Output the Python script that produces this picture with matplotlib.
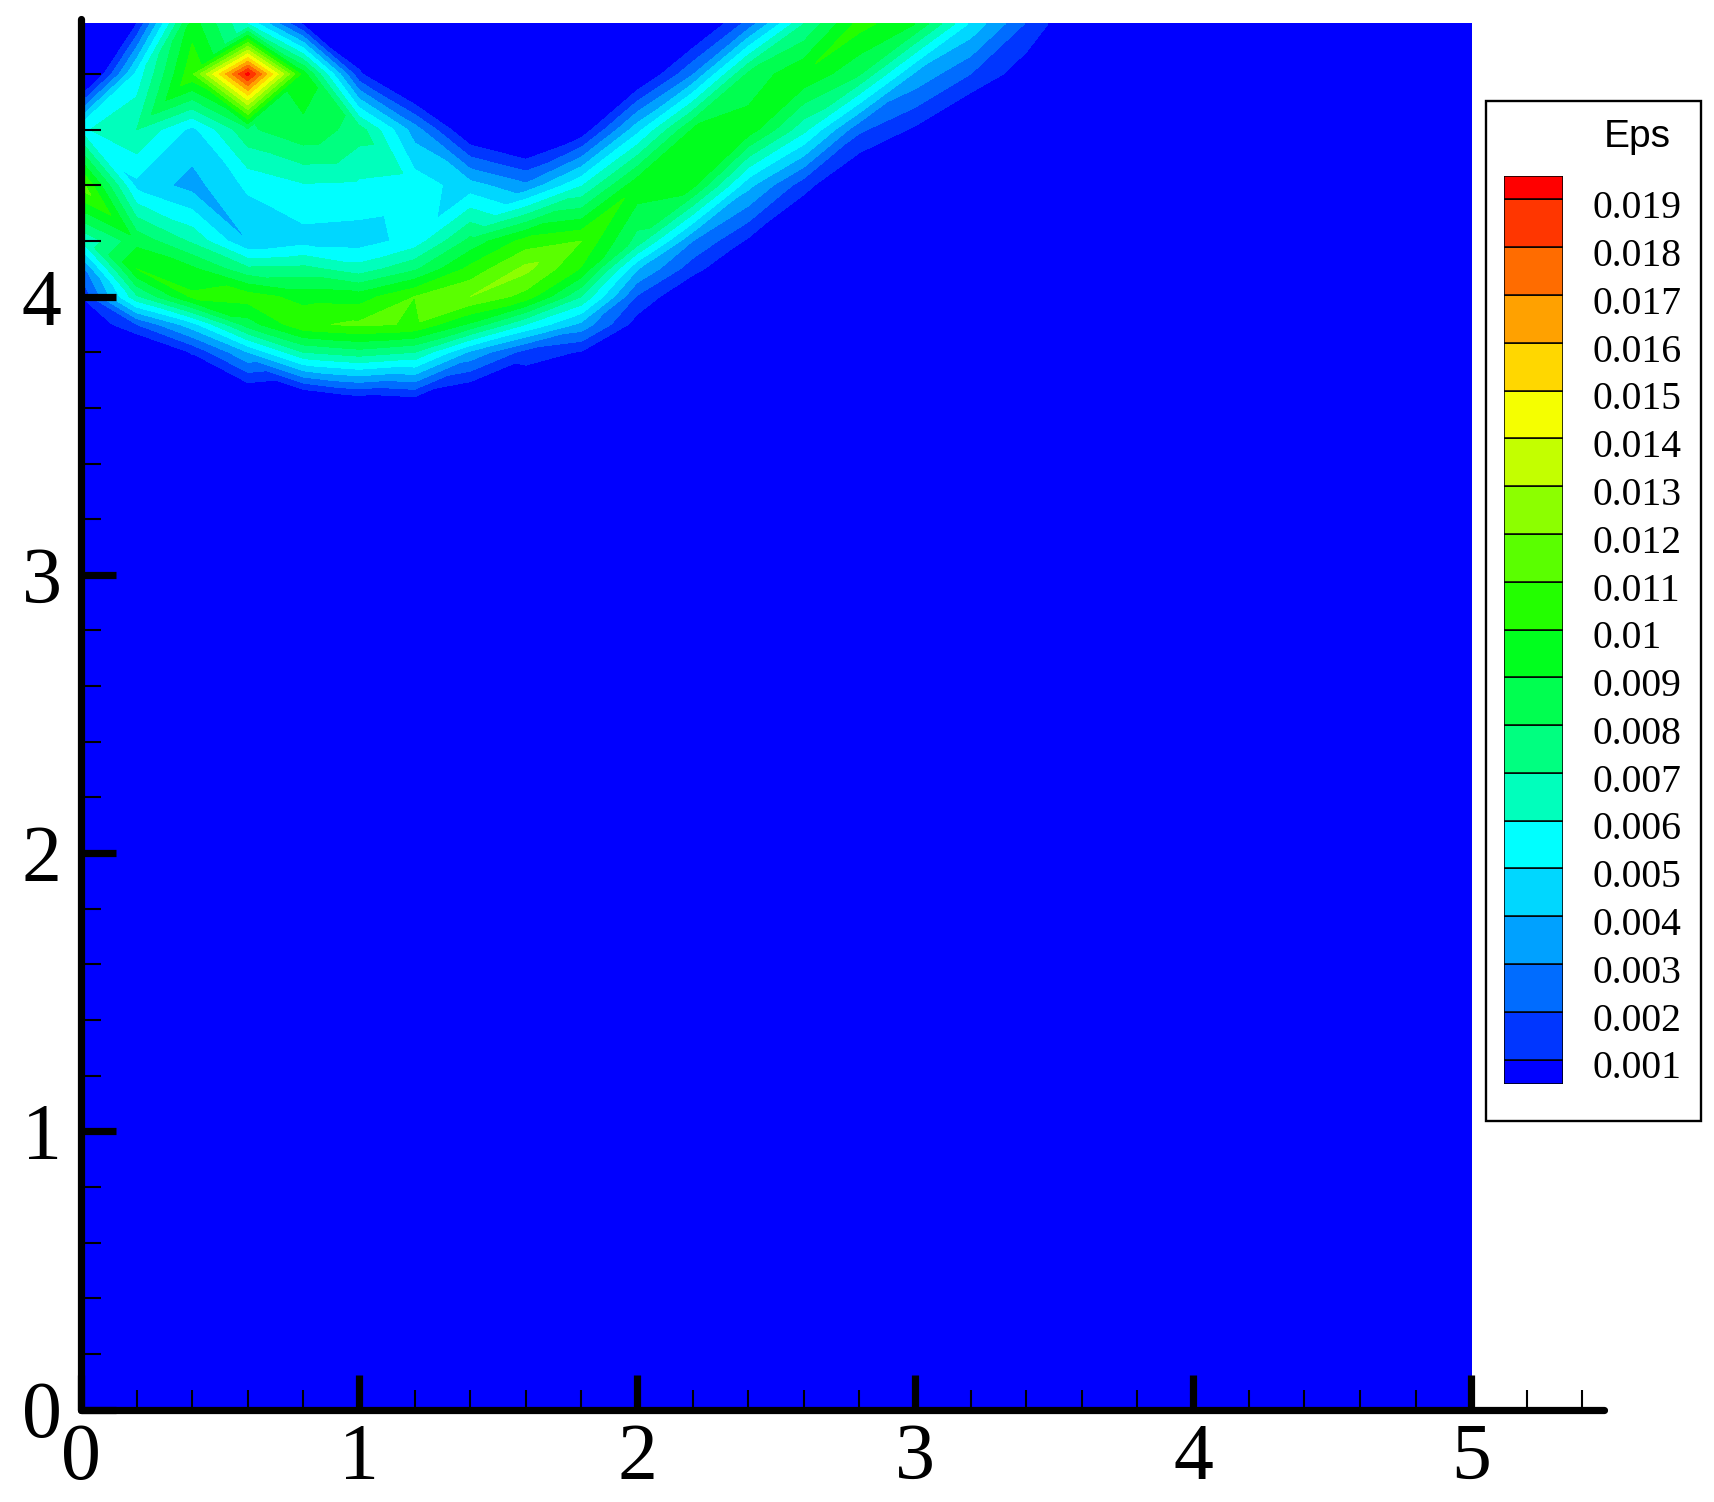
import matplotlib
matplotlib.use('Agg')
import matplotlib.pyplot as plt
import matplotlib.tri as mtri
from matplotlib.patches import Rectangle
import numpy as np

W, H = 1715, 1502

# Eps, in units of 0.001, one list per row of the mesh
x_nodes = [0, 0.2, 0.4, 0.6, 0.8, 1.0, 1.2, 1.4, 1.6, 1.8, 2.0, 2.2, 2.4, 2.6, 2.8, 3.0, 3.2, 3.4, 3.6]
eps_498 = [-1, 1.0, 9.5, 6.0, 0.8, -1, 0, 0, 0, 0, 0, -0.8, 2.4, 7.0, 10.4, 9.0, 4.8, 1.9, -0.4]
eps_480 = [-2, 5.3, 10.8, 19.4, 9.5, 1.2, -2, -0.5, -1, -1, -0.5, 2.9, 8.2, 9.9, 8.1, 3.8, 2.0, 0.3, 0]
eps_460 = [5.8, 7.0, 4.7, 7.8, 8.8, 7.5, 3.5, -0.3, -1.5, 0.2, 4.6, 9.1, 9.6, 6.3, 2.2, 0.8, -1, 0, 0]
eps_440 = [11.5, 4.7, 3.6, 5.2, 5.9, 5.8, 5.6, 4.4, 3.2, 5.9, 9.7, 9.3, 4.3, 1.4, -0.7, -1, 0, 0, 0]
eps_420 = [6.0, 8.7, 6.8, 4.0, 4.6, 4.5, 5.4, 8.3, 10.4, 11.0, 7.6, 3.0, 0.8, -1, 0, 0, 0, 0, 0]
eps_410 = [2.5, 10.0, 9.2, 7.2, 7.3, 6.4, 7.8, 10.3, 12.3, 9.9, 4.1, 1.4, -0.5, 0, 0, 0, 0, 0, 0]
eps_400 = [1.0, 6.8, 10.2, 10.5, 9.6, 9.5, 11.0, 12.0, 10.6, 7.0, 1.9, -0.3, 0, 0, 0, 0, 0, 0, 0]
eps_390 = [-0.3, 2.0, 4.6, 8.5, 10.8, 11.2, 10.9, 8.8, 6.0, 3.7, 0.5, -0.5, 0, 0, 0, 0, 0, 0, 0]
eps_380 = [-1, -1, 1.1, 4.0, 7.0, 7.6, 7.0, 3.8, 1.6, 0.9, -1, 0, 0, 0, 0, 0, 0, 0, 0]
eps_360 = [0, 0, -1, -1.5, -2, -0.9, -0.5, -1.5, -1, -1, 0, 0, 0, 0, 0, 0, 0, 0, 0]
eps_340 = [0] * 19

y_nodes = [3.4, 3.6, 3.8, 3.9, 4.0, 4.1, 4.2, 4.4, 4.6, 4.8, 4.98]

levels = [i for i in range(1, 20)]
level_labels = ['0.001', '0.002', '0.003', '0.004', '0.005', '0.006', '0.007', '0.008', '0.009', '0.01',
                '0.011', '0.012', '0.013', '0.014', '0.015', '0.016', '0.017', '0.018', '0.019']
band_colors = ['#0000ff', '#0036ff', '#006cff', '#00a1ff', '#00d7ff', '#00ffff', '#00ffbc', '#00ff80',
               '#00ff50', '#00ff1e', '#23ff00', '#5aff00', '#8cff00', '#c3ff00', '#f5ff00', '#ffd700',
               '#ffa100', '#ff6c00', '#ff3600', '#ff0000']

field = np.array([eps_340, eps_360, eps_380, eps_390, eps_400, eps_410, eps_420,
                  eps_440, eps_460, eps_480, eps_498])

# nothing but the lowest band right of the mesh and below it
xs = np.array(x_nodes + [3.8, 5.0])
ys = np.array([0.0] + y_nodes)
Z = np.zeros((len(ys), len(xs)))
Z[1:, :len(x_nodes)] = field


def falling_diagonal(x, y):
    # which way a mesh cell is split, so the contours follow the bands
    if y < 4.39:
        return x < 0.99
    if x < 0.19:
        return y < 4.59
    if x < 0.39:
        return False
    # diamond round the peak at (0.6, 4.8)
    if abs(x - 0.4) < 0.01 and abs(y - 4.8) < 0.01:
        return False
    if abs(x - 0.6) < 0.01 and abs(y - 4.6) < 0.01:
        return False
    return x < 1.39


nx, ny = len(xs), len(ys)
triangles = []
for j in range(ny - 1):
    for i in range(nx - 1):
        a, b = j * nx + i, j * nx + i + 1
        c, d = a + nx, b + nx
        if falling_diagonal(xs[i], ys[j]):
            triangles += [[a, b, c], [b, d, c]]
        else:
            triangles += [[a, b, d], [a, d, c]]
gx, gy = np.meshgrid(xs, ys)
mesh = mtri.Triangulation(gx.ravel(), gy.ravel(), triangles)

plt.rcParams['font.family'] = 'Liberation Serif'
fig = plt.figure(figsize=(W / 100, H / 100), dpi=100)


def px_axes(left, top, right, bottom):
    return fig.add_axes([left / W, 1 - bottom / H, (right - left) / W, (bottom - top) / H])


ax = px_axes(81, 19.5, 1604, 1409.5)
ax.tricontourf(mesh, Z.ravel(), levels=levels, colors=band_colors, extend='both', antialiased=False)
ax.set_xlim(0, 5.478)
ax.set_ylim(0, 4.996)
ax.patch.set_visible(False)

ax.spines['top'].set_visible(False)
ax.spines['right'].set_visible(False)
for s in ['left', 'bottom']:
    ax.spines[s].set_linewidth(5.2)
    ax.spines[s].set_capstyle('round')
    ax.spines[s].set_zorder(5)

ax.set_xticks([0, 1, 2, 3, 4, 5])
ax.set_yticks([0, 1, 2, 3, 4])
ax.set_xticks(np.arange(0, 5.41, 0.2), minor=True)
ax.set_yticks(np.arange(0, 4.81, 0.2), minor=True)
ax.tick_params(which='major', direction='in', length=25, width=5.2, labelsize=57.5, zorder=4)
ax.tick_params(which='minor', direction='in', length=14.5, width=1.5, zorder=4)
ax.tick_params(axis='x', which='major', pad=10)
ax.tick_params(axis='y', which='major', pad=14)

# legend box
box = Rectangle((1486 / W, 1 - 1121 / H), 215 / W, 1020 / H, transform=fig.transFigure,
                facecolor='white', edgecolor='black', linewidth=1.7, zorder=-1)
fig.add_artist(box)
fig.text(1637 / W, 1 - 147 / H, 'Eps', family='Liberation Sans', fontsize=28, ha='center', va='baseline')

cax = px_axes(1504.5, 175.5, 1563.5, 1083.5)
edges = [0.5] + levels + [19.5]
for i in range(len(band_colors)):
    cax.bar(0, edges[i + 1] - edges[i], bottom=edges[i], width=1, color=band_colors[i],
            edgecolor='black', linewidth=1.1)
cax.set_xlim(-0.5, 0.5)
cax.set_ylim(0.5, 19.5)
cax.axis('off')
for lev, lab in zip(levels, level_labels):
    cax.annotate(lab, (0.5, lev), xytext=(21, -6.7), textcoords='offset points', fontsize=28.5,
                 ha='left', va='center', annotation_clip=False)

fig.savefig('out.png', dpi=100)
